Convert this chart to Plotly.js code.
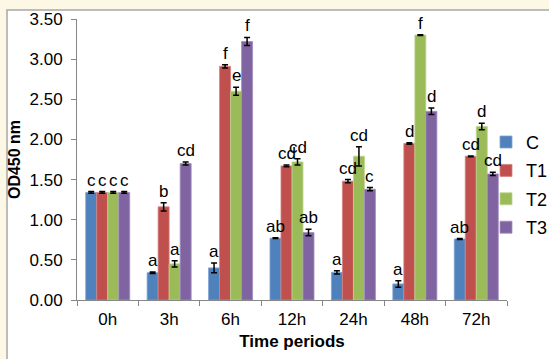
<!DOCTYPE html>
<html>
<head>
<meta charset="utf-8">
<script src="https://cdn.plot.ly/plotly-3.0.1.min.js"></script>
<style>html,body{margin:0;padding:0;background:#fdf8e6;}#chart{width:549px;height:359px;}</style>
</head>
<body>
<div id="chart"></div>
<script>
const categories = ["0h", "3h", "6h", "12h", "24h", "48h", "72h"];
const seriesNames = ["C", "T1", "T2", "T3"];
const valuesC  = [1.34, 0.34, 0.40, 0.77, 0.345, 0.20, 0.76];
const valuesT1 = [1.34, 1.16, 2.91, 1.67, 1.48, 1.95, 1.79];
const valuesT2 = [1.34, 0.45, 2.60, 1.72, 1.79, 3.30, 2.16];
const valuesT3 = [1.34, 1.70, 3.22, 0.84, 1.38, 2.35, 1.57];
const errorsC  = [0.01, 0.01, 0.06, 0.005, 0.02, 0.04, 0.005];
const errorsT1 = [0.01, 0.05, 0.02, 0.01, 0.02, 0.01, 0.005];
const errorsT2 = [0.01, 0.04, 0.05, 0.04, 0.12, 0.005, 0.04];
const errorsT3 = [0.01, 0.02, 0.05, 0.04, 0.02, 0.04, 0.02];
const lettersC  = ["c", "a", "a", "ab", "a", "a", "ab"];
const lettersT1 = ["c", "b", "f", "cd", "cd", "d", "cd"];
const lettersT2 = ["c", "a", "e", "cd", "cd", "f", "d"];
const lettersT3 = ["c", "cd", "f", "ab", "c", "d", "cd"];

const colors = ["#4f81bd", "#c0504d", "#9bbb59", "#8064a2"];
const edgeColors = ["#7fa3d3", "#d6827f", "#bdd48e", "#a390bf"];
const allValues = [valuesC, valuesT1, valuesT2, valuesT3];
const allErrors = [errorsC, errorsT1, errorsT2, errorsT3];
const allLetters = [lettersC, lettersT1, lettersT2, lettersT3];

const traces = seriesNames.map((name, i) => ({
  type: "bar",
  name: name,
  x: categories,
  y: allValues[i],
  legendgroup: name,
  marker: {color: colors[i], line: {color: edgeColors[i], width: 0.8}},
  error_y: {type: "data", array: allErrors[i], visible: true, color: "#000", thickness: 1.5, width: 3}
}));

const barPx = 11;
const annotations = [];
seriesNames.forEach((name, i) => {
  categories.forEach((c, j) => {
    annotations.push({
      x: c, xref: "x", y: allValues[i][j] + allErrors[i][j], yref: "y",
      text: allLetters[i][j], showarrow: false,
      xshift: (i - 1.5) * barPx, yshift: 0, yanchor: "bottom", xanchor: "center",
      font: {family: "Liberation Sans, Arial, sans-serif", size: 17, color: "#000"}
    });
  });
});

const L = 77, R = 42, T = 19, B = 59;
const W = 549 - L - R, H = 359 - T - B;
const layout = {
  width: 549, height: 359,
  margin: {l: L, r: R, t: T, b: B, pad: 0, autoexpand: false},
  paper_bgcolor: "#fdf8e6",
  plot_bgcolor: "rgba(0,0,0,0)",
  font: {family: "Liberation Sans, Arial, sans-serif", color: "#000", size: 17},
  barmode: "group",
  bargap: 0.283,
  bargroupgap: 0,
  showlegend: true,
  legend: {
    x: (486 - L) / W, xanchor: "left", y: 0.41, yanchor: "middle",
    font: {size: 18}, bgcolor: "rgba(0,0,0,0)", tracegroupgap: 2,
    itemwidth: 30
  },
  xaxis: {
    type: "category",
    tickson: "boundaries",
    ticks: "outside", ticklen: 5, tickcolor: "#868686",
    showline: true, linecolor: "#868686", linewidth: 1,
    showgrid: false, zeroline: false,
    tickfont: {size: 17}, ticklabelstandoff: 4,
    title: {text: "<b>Time periods</b>", font: {size: 17}, standoff: 6}
  },
  yaxis: {
    range: [0, 3.5], dtick: 0.5, tickformat: ".2f",
    ticks: "outside", ticklen: 5, tickcolor: "#868686",
    showline: true, linecolor: "#868686", linewidth: 1,
    showgrid: false, zeroline: false,
    tickfont: {size: 17}, ticklabelstandoff: 5,
    title: {text: "<b>OD450 nm</b>", font: {size: 16}, standoff: 4}
  },
  shapes: [{
    type: "rect", layer: "below", xref: "paper", yref: "paper",
    x0: (7 - L) / W, x1: (560 - L) / W,
    y0: -(370 - 300) / H, y1: 1 + (T - 10) / H,
    fillcolor: "#ffffff", line: {color: "#a6a6a6", width: 1.5}
  }],
  annotations: annotations
};

Plotly.newPlot("chart", traces, layout, {displayModeBar: false, staticPlot: true});
</script>
</body>
</html>
